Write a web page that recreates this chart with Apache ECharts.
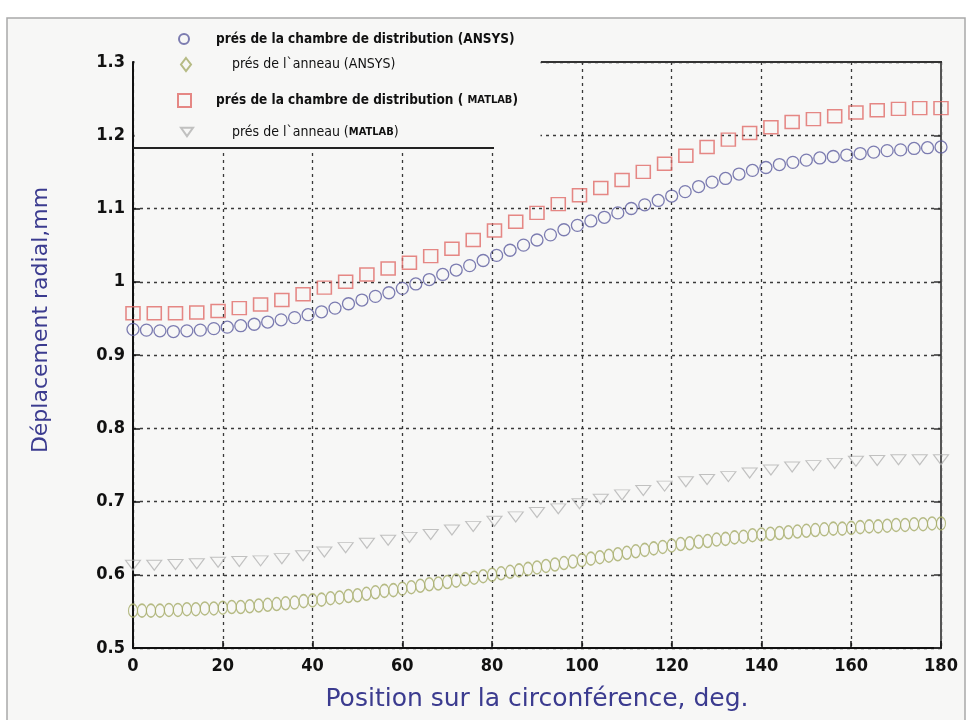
<!DOCTYPE html>
<html>
<head>
<meta charset="utf-8">
<script src="https://cdn.jsdelivr.net/npm/echarts@6/dist/echarts.min.js"></script>
<style>
  html, body { margin: 0; padding: 0; background: #ffffff; }
  #chart { width: 969px; height: 720px; }
</style>
</head>
<body>
<div id="chart"></div>
<script>
// Radial displacement along the circumference: two FE (ANSYS) and two MATLAB curves
const seriesNames = [
  'prés de la chambre de distribution (ANSYS)',
  'prés de l`anneau (ANSYS)',
  'prés de la chambre de distribution ( MATLAB)',
  'prés de l`anneau (MATLAB)'
];

const xTicks = [0, 20, 40, 60, 80, 100, 120, 140, 160, 180];
const yTicks = [0.5, 0.6, 0.7, 0.8, 0.9, 1, 1.1, 1.2, 1.3];

// ANSYS, near the distribution chamber (every 3 deg)
const ansysChamberDeg = [0,3,6,9,12,15,18,21,24,27,30,33,36,39,42,45,48,51,54,57,60,63,66,69,72,75,78,81,84,87,90,93,96,99,102,105,108,111,114,117,120,123,126,129,132,135,138,141,144,147,150,153,156,159,162,165,168,171,174,177,180];
const ansysChamberVal = [0.935,0.934,0.933,0.932,0.933,0.934,0.936,0.938,0.940,0.942,0.945,0.948,0.951,0.955,0.959,0.964,0.970,0.975,0.980,0.985,0.991,0.997,1.003,1.010,1.016,1.022,1.029,1.036,1.043,1.050,1.057,1.064,1.071,1.077,1.083,1.088,1.094,1.100,1.105,1.111,1.117,1.123,1.130,1.136,1.141,1.147,1.152,1.156,1.160,1.163,1.166,1.169,1.171,1.173,1.175,1.177,1.179,1.180,1.182,1.183,1.184];

// ANSYS, near the ring (every 2 deg)
const ansysRingDeg = [0,2,4,6,8,10,12,14,16,18,20,22,24,26,28,30,32,34,36,38,40,42,44,46,48,50,52,54,56,58,60,62,64,66,68,70,72,74,76,78,80,82,84,86,88,90,92,94,96,98,100,102,104,106,108,110,112,114,116,118,120,122,124,126,128,130,132,134,136,138,140,142,144,146,148,150,152,154,156,158,160,162,164,166,168,170,172,174,176,178,180];
const ansysRingVal = [0.551,0.551,0.551,0.551,0.552,0.552,0.553,0.553,0.554,0.554,0.555,0.556,0.556,0.557,0.558,0.559,0.560,0.561,0.562,0.564,0.565,0.566,0.568,0.569,0.571,0.572,0.574,0.576,0.578,0.579,0.581,0.583,0.585,0.587,0.588,0.590,0.592,0.594,0.596,0.598,0.600,0.602,0.604,0.606,0.608,0.610,0.612,0.614,0.616,0.618,0.620,0.622,0.624,0.626,0.628,0.630,0.632,0.634,0.636,0.638,0.640,0.642,0.643,0.645,0.646,0.648,0.649,0.651,0.652,0.654,0.655,0.656,0.657,0.658,0.659,0.660,0.661,0.662,0.663,0.663,0.664,0.665,0.666,0.666,0.667,0.668,0.668,0.669,0.669,0.670,0.670];

// MATLAB sample positions (39 points over 0..180 deg)
const matlabDeg = [0,4.74,9.47,14.21,18.95,23.68,28.42,33.16,37.89,42.63,47.37,52.11,56.84,61.58,66.32,71.05,75.79,80.53,85.26,90,94.74,99.47,104.21,108.95,113.68,118.42,123.16,127.89,132.63,137.37,142.11,146.84,151.58,156.32,161.05,165.79,170.53,175.26,180];
const matlabChamberVal = [0.957,0.957,0.957,0.958,0.960,0.964,0.969,0.975,0.983,0.992,1.000,1.010,1.018,1.026,1.035,1.045,1.057,1.070,1.082,1.094,1.106,1.118,1.128,1.139,1.150,1.161,1.172,1.184,1.194,1.203,1.211,1.218,1.222,1.226,1.231,1.234,1.236,1.237,1.237];
const matlabRingVal = [0.613,0.613,0.614,0.615,0.617,0.618,0.619,0.622,0.626,0.631,0.637,0.643,0.647,0.651,0.655,0.661,0.666,0.673,0.679,0.685,0.690,0.697,0.703,0.709,0.715,0.721,0.727,0.730,0.734,0.739,0.743,0.747,0.749,0.752,0.755,0.756,0.757,0.757,0.757];

const pairs = (xs, ys) => xs.map((x, i) => [x, ys[i]]);

const tickFont = "'Liberation Sans Narrow', 'DejaVu Sans Condensed', 'Arial Narrow', sans-serif";
const titleFont = "'DejaVu Sans', Verdana, sans-serif";
const axisBlue = '#3b3b8f';
const downTriangle = 'path://M0,0 L20,0 L10,14 Z';

const gridLine = { show: true, lineStyle: { type: [3, 4], color: '#3a3a3a', width: 1.3 } };

function legendBlock(name, icon, left, top, iw, ih, padLeft, bold, size) {
  return {
    data: [{ name: name, icon: icon }],
    left: left, top: top,
    orient: 'vertical',
    padding: 0,
    itemWidth: iw, itemHeight: ih,
    selectedMode: false,
    z: 10,
    formatter: function (n) {
      if (n.indexOf('MATLAB') >= 0) {
        return '{a|' + n.replace('MATLAB)', '}{m|MATLAB}{a|)}');
      }
      return '{a|' + n + '}';
    },
    textStyle: {
      padding: [0, 0, 0, padLeft],
      rich: {
        a: { fontFamily: tickFont, fontSize: size, fontWeight: bold ? 'bold' : 'normal', color: '#111' },
        m: { fontFamily: "'DejaVu Sans Condensed', 'DejaVu Sans', sans-serif", fontSize: 11, fontWeight: 'bold', color: '#111' }
      }
    }
  };
}

const chart = echarts.init(document.getElementById('chart'));
chart.setOption({
  backgroundColor: 'transparent',
  animation: false,
  grid: { left: 133, top: 62, width: 808, height: 586, containLabel: false },
  xAxis: {
    type: 'value', min: 0, max: 180, interval: 20,
    name: 'Position sur la circonférence, deg.',
    nameLocation: 'middle', nameGap: 39,
    nameTextStyle: { fontFamily: titleFont, fontSize: 25, color: axisBlue },
    axisLine: { onZero: false, lineStyle: { color: '#111', width: 2 } },
    axisTick: { inside: true, length: 7, lineStyle: { color: '#111', width: 1.5 } },
    axisLabel: { margin: 9, color: '#111', fontFamily: tickFont, fontWeight: 'bold', fontSize: 18,
                 formatter: v => (xTicks.indexOf(v) >= 0 ? String(v) : '') },
    splitLine: gridLine
  },
  yAxis: [{
    type: 'value', min: 0.5, max: 1.3, interval: 0.1,
    axisLine: { show: true, onZero: false, lineStyle: { color: '#111', width: 2 } },
    axisTick: { inside: true, length: 7, lineStyle: { color: '#111', width: 1.5 } },
    axisLabel: { margin: 8, color: '#111', fontFamily: tickFont, fontWeight: 'bold', fontSize: 18,
                 formatter: v => { const t = yTicks.find(k => Math.abs(k - v) < 1e-6); return t === undefined ? '' : String(t); } },
    splitLine: gridLine
  }, {
    type: 'value', min: 0.5, max: 1.3, interval: 0.1, position: 'right',
    axisLine: { show: true, onZero: false, lineStyle: { color: '#555', width: 2 } },
    axisTick: { inside: true, length: 7, lineStyle: { color: '#333', width: 1.5 } },
    axisLabel: { show: false },
    splitLine: { show: false }
  }],
  legend: [
    legendBlock(seriesNames[0], 'circle', 178, 32, 10, 10, 22, true, 13.5),
    legendBlock(seriesNames[1], 'diamond', 180, 57, 10, 13, 36, false, 14),
    legendBlock(seriesNames[2], 'rect', 177, 93, 13, 13, 20, true, 13.5),
    legendBlock(seriesNames[3], downTriangle, 180, 125, 12, 9, 34, false, 14)
  ],
  graphic: [
    { type: 'rect', z: -10, silent: true,
      shape: { x: 7, y: 18, width: 958, height: 720 },
      style: { fill: '#f7f7f6', stroke: '#a9a9a9', lineWidth: 1.5 } },
    // legend panel hides the grid in the upper-left corner
    { type: 'rect', z: 5, silent: true,
      shape: { x: 134.5, y: 52, width: 406, height: 95 },
      style: { fill: '#f7f7f6' } },
    { type: 'line', z: 6, silent: true,
      shape: { x1: 133, y1: 148, x2: 494, y2: 148 },
      style: { stroke: '#222', lineWidth: 2 } },
    { type: 'line', z: 6, silent: true,
      shape: { x1: 541, y1: 62, x2: 942, y2: 62 },
      style: { stroke: '#333', lineWidth: 2 } },
    { type: 'text', z: 6, silent: true,
      x: 41, y: 320, rotation: Math.PI / 2,
      style: { text: 'Déplacement radial,mm', fontFamily: titleFont, fontSize: 22,
               fill: axisBlue, align: 'center', verticalAlign: 'middle' } }
  ],
  series: [
    { name: seriesNames[0], type: 'scatter', data: pairs(ansysChamberDeg, ansysChamberVal),
      symbol: 'circle', symbolSize: 12, z: 3,
      itemStyle: { color: 'rgba(0,0,0,0)', borderColor: '#5d5d9f', borderWidth: 1.3 } },
    { name: seriesNames[1], type: 'scatter', data: pairs(ansysRingDeg, ansysRingVal),
      symbol: 'circle', symbolSize: [9, 13], z: 3,
      itemStyle: { color: 'rgba(0,0,0,0)', borderColor: '#a5ab68', borderWidth: 1.3 } },
    { name: seriesNames[2], type: 'scatter', data: pairs(matlabDeg, matlabChamberVal),
      symbol: 'rect', symbolSize: [14, 13], z: 3,
      itemStyle: { color: 'rgba(0,0,0,0)', borderColor: '#e06a68', borderWidth: 1.5 } },
    { name: seriesNames[3], type: 'scatter', data: pairs(matlabDeg, matlabRingVal),
      symbol: downTriangle, symbolSize: [15, 10], z: 3,
      itemStyle: { color: 'rgba(0,0,0,0)', borderColor: '#b3b3b3', borderWidth: 1.1 } }
  ]
});
</script>
</body>
</html>
